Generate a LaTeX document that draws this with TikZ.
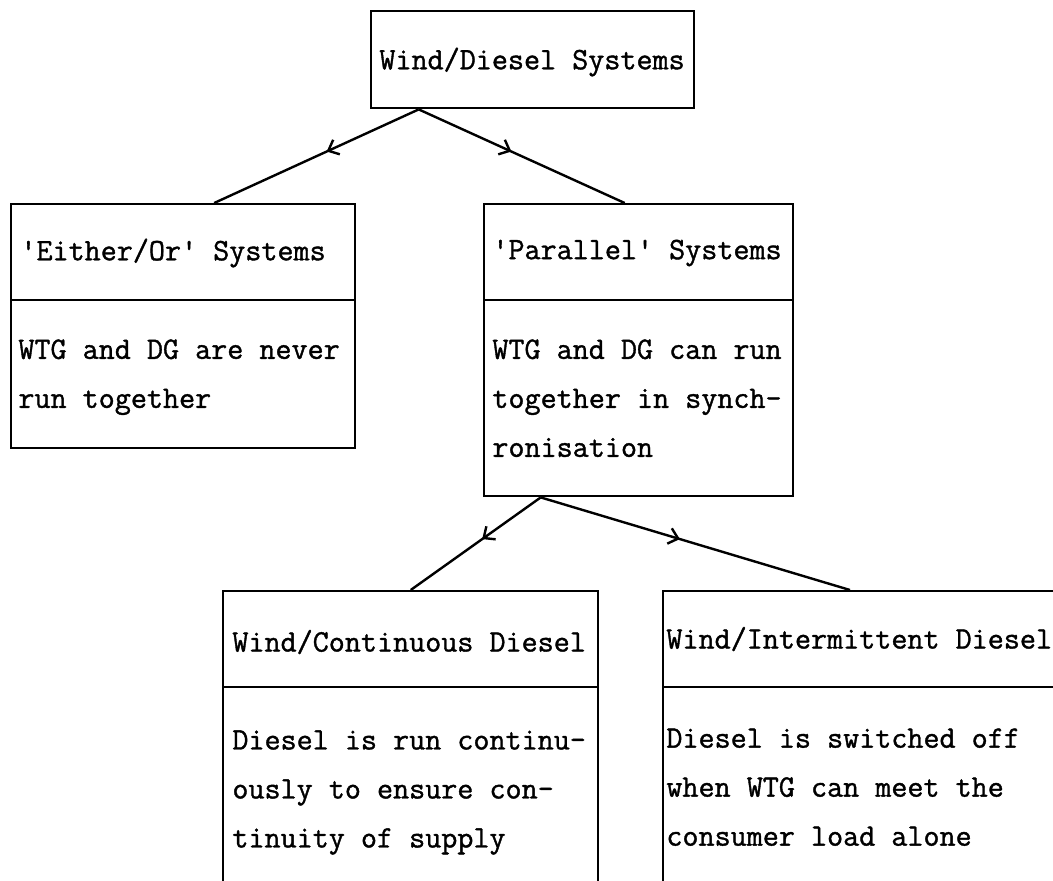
\documentclass[tikz,border=0pt]{standalone}
\usepackage{fontspec}
\setmonofont{Latin Modern Mono}[FakeBold=1.2]
\usetikzlibrary{arrows.meta,decorations.markings}

\tikzset{
  box/.style={draw, line width=1.2pt, inner sep=0pt, anchor=north west},
  head/.style={anchor=west, inner sep=0pt, font=\ttfamily\fontsize{15.6}{24.5}\selectfont},
  body/.style={anchor=north west, inner sep=0pt, align=left, font=\ttfamily\fontsize{15.6}{24.5}\selectfont},
  branch/.style={line width=1.2pt, postaction={decorate},
    decoration={markings, mark=at position 0.45 with {\arrow{Straight Barb[length=4.5pt,width=8pt,line width=1.2pt]}}}}
}

\begin{document}
\begin{tikzpicture}[x=0.5pt,y=-0.5pt]
\useasboundingbox (0,0) rectangle (1053,880);
\clip (0,0) rectangle (1053,880);

%Shape: Rectangle [top]
\node[box, minimum width=161.5pt, minimum height=48.5pt] (wd) at (370,10) {};
\node[head] (wdtxt) at ([xshift=4.5pt,yshift=-26pt]wd.north west) {Wind/Diesel Systems};

%Shape: Rectangle [either/or]
\node[box, minimum width=172pt, minimum height=122pt] (eo) at (10,203) {};
\draw[line width=1.2pt] ([yshift=-48.5pt]eo.north west) -- ([yshift=-48.5pt]eo.north east);
\node[head] (eohead) at ([xshift=5pt,yshift=-25pt]eo.north west) {'Either/Or' Systems};
\node[body] (eobody) at ([xshift=4pt,yshift=-68pt]eo.north west) {WTG and DG are never\\run together};

%Shape: Rectangle [parallel]
\node[box, minimum width=154.5pt, minimum height=146pt] (par) at (483,203) {};
\draw[line width=1.2pt] ([yshift=-48.5pt]par.north west) -- ([yshift=-48.5pt]par.north east);
\node[head] (parhead) at ([xshift=4.5pt,yshift=-25pt]par.north west) {'Parallel' Systems};
\node[body] (parbody) at ([xshift=4.5pt,yshift=-68pt]par.north west) {WTG and DG can run\\together in synch-\\ronisation};

%Shape: Rectangle [continuous]
\node[box, minimum width=187.5pt, minimum height=160pt] (cont) at (222,590) {};
\draw[line width=1.2pt] ([yshift=-48.5pt]cont.north west) -- ([yshift=-48.5pt]cont.north east);
\node[head] (conthead) at ([xshift=5pt,yshift=-26pt]cont.north west) {Wind/Continuous Diesel};
\node[body] (contbody) at ([xshift=5pt,yshift=-70pt]cont.north west) {Diesel is run continu-\\ously to ensure con-\\tinuity of supply};

%Shape: Rectangle [intermittent]
\node[box, minimum width=230pt, minimum height=160pt] (inter) at (662,590) {};
\draw[line width=1.2pt] ([yshift=-48.5pt]inter.north west) -- ([yshift=-48.5pt]inter.north east);
\node[head] (interhead) at ([xshift=2pt,yshift=-24.5pt]inter.north west) {Wind/Intermittent Diesel};
\node[body] (interbody) at ([xshift=2pt,yshift=-69pt]inter.north west) {Diesel is switched off\\when WTG can meet the\\consumer load alone};

%Straight Lines [branches]
\coordinate (wdfoot) at ([xshift=-57pt]wd.south);
\coordinate (eotop) at ([xshift=15.5pt]eo.north);
\coordinate (partop) at ([xshift=-7pt]par.north);
\draw[branch] (wdfoot) -- (eotop);
\draw[branch] (wdfoot) -- (partop);

\coordinate (parfoot) at ([xshift=-49pt]par.south);
\coordinate (intertop) at ([xshift=94pt]inter.north west);
\draw[branch] (parfoot) -- (cont.north);
\draw[branch] (parfoot) -- (intertop);

\end{tikzpicture}
\end{document}
